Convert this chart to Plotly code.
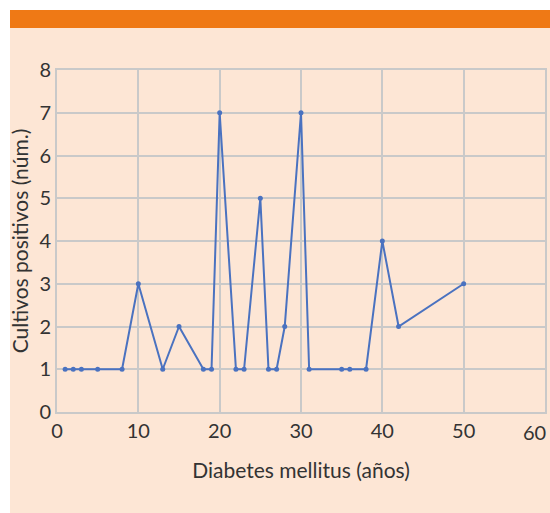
import plotly.graph_objects as go

years = [1, 2, 3, 5, 8, 10, 13, 15, 18, 19, 20, 22, 23, 25, 26, 27, 28, 30, 31, 35, 36, 38, 40, 42, 50]
positives = [1, 1, 1, 1, 1, 3, 1, 2, 1, 1, 7, 1, 1, 5, 1, 1, 2, 7, 1, 1, 1, 1, 4, 2, 3]

x_ticks = [0, 10, 20, 30, 40, 50, 60]
x_labels = ["0", "10", "20", "30", "40", "50", ""]
last_x_label = "60"
y_ticks = [0, 1, 2, 3, 4, 5, 6, 7, 8]

W, H = 550, 513
L, R, T, B = 57, 5, 70, 101
pw, ph = W - L - R, H - T - B

def px(x):
    return (x - L) / pw

def py(y):
    return (H - B - y) / ph

peach = "#fde6d5"
orange = "#ef7915"
grid = "#c9c9c9"
text = "#333333"

fig = go.Figure()
fig.add_trace(go.Scatter(
    x=years, y=positives, mode="lines+markers",
    line=dict(color="#4a72c0", width=2),
    marker=dict(color="#4a72c0", size=5),
    showlegend=False,
))

fig.add_annotation(
    x=x_ticks[-1], xref="x", y=0, yref="paper", text=last_x_label,
    showarrow=False, xanchor="right", yanchor="middle", xshift=3, yshift=-20,
    font=dict(size=20, color=text),
)

fig.update_layout(
    width=W, height=H,
    margin=dict(l=L, r=R, t=T, b=B),
    paper_bgcolor="white",
    plot_bgcolor="rgba(0,0,0,0)",
    font=dict(family="Lato, Open Sans, sans-serif", size=20, color=text),
    shapes=[
        dict(type="rect", xref="paper", yref="paper", layer="below",
             x0=px(10), x1=px(W), y0=py(H), y1=py(28),
             fillcolor=peach, line=dict(width=0)),
        dict(type="rect", xref="paper", yref="paper", layer="below",
             x0=px(10), x1=px(W), y0=py(28), y1=py(10),
             fillcolor=orange, line=dict(width=0)),
    ],
    xaxis=dict(
        range=[0, 60], tickvals=x_ticks, ticktext=x_labels,
        showgrid=True, gridcolor=grid, gridwidth=2,
        zeroline=False, showline=True, linecolor=grid, linewidth=2, mirror=True,
        ticks="", tickfont=dict(size=20, color=text), automargin=False,
        title=dict(text="Diabetes mellitus (años)", font=dict(size=21, color=text), standoff=22),
    ),
    yaxis=dict(
        range=[0, 8], tickvals=y_ticks, showgrid=True, gridcolor=grid, gridwidth=2,
        zeroline=False, showline=True, linecolor=grid, linewidth=2, mirror=True,
        ticks="", tickfont=dict(size=20, color=text), automargin=False,
        title=dict(text="Cultivos positivos (núm.)", font=dict(size=21, color=text), standoff=5),
    ),
)

fig.write_html(
    "out.html",
    config={"displayModeBar": False},
    post_script="document.body.style.margin='0';document.body.style.overflow='hidden';",
)
